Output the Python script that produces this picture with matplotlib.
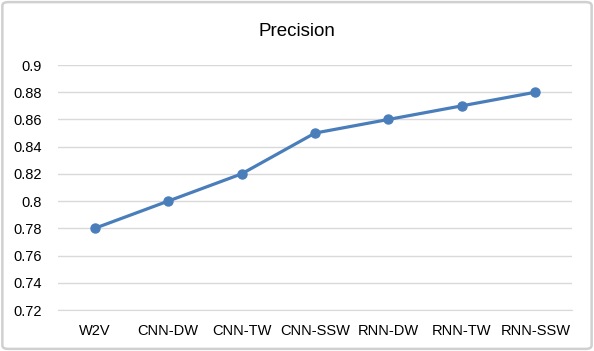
import matplotlib.pyplot as plt
from matplotlib.patches import FancyBboxPatch

models = ['W2V', 'CNN-DW', 'CNN-TW', 'CNN-SSW', 'RNN-DW', 'RNN-TW', 'RNN-SSW']
precision = [0.78, 0.80, 0.82, 0.85, 0.86, 0.87, 0.88]
yticks = [0.72, 0.74, 0.76, 0.78, 0.8, 0.82, 0.84, 0.86, 0.88, 0.9]
ytick_labels = ['0.72', '0.74', '0.76', '0.78', '0.8', '0.82', '0.84', '0.86', '0.88', '0.9']

plt.rcParams['font.family'] = ['Liberation Sans', 'DejaVu Sans']

fig = plt.figure(figsize=(5.94, 3.51), dpi=100)
ax = fig.add_axes([0.0976, 0.1168, 0.8654, 0.698])

x = range(len(models))
ax.plot(x, precision, color='#4A7EBB', linewidth=2.3, marker='o', markersize=6.5, zorder=3)

ax.set_xlim(-0.5, len(models) - 0.5)
ax.set_ylim(0.72, 0.9)
ax.set_yticks(yticks)
ax.set_yticklabels(ytick_labels)
ax.set_xticks(list(x))
ax.set_xticklabels(models)
ax.grid(axis='y', color='#d9d9d9', linewidth=1)
ax.set_axisbelow(True)
for s in ['top', 'right', 'left']:
    ax.spines[s].set_visible(False)
ax.spines['bottom'].set_color('#d9d9d9')
ax.tick_params(axis='both', length=0, labelsize=10.5, colors='black')
ax.tick_params(axis='y', pad=11.5)
ax.tick_params(axis='x', pad=10)

fig.suptitle('Precision', fontsize=13.5, y=0.935)

border = FancyBboxPatch((0.004, 0.006), 0.992, 0.988, boxstyle='round,pad=0,rounding_size=0.01',
                        transform=fig.transFigure, facecolor='none', edgecolor='#d0d0d0', linewidth=1.8)
fig.patches.append(border)

plt.savefig('out.png', dpi=100)
